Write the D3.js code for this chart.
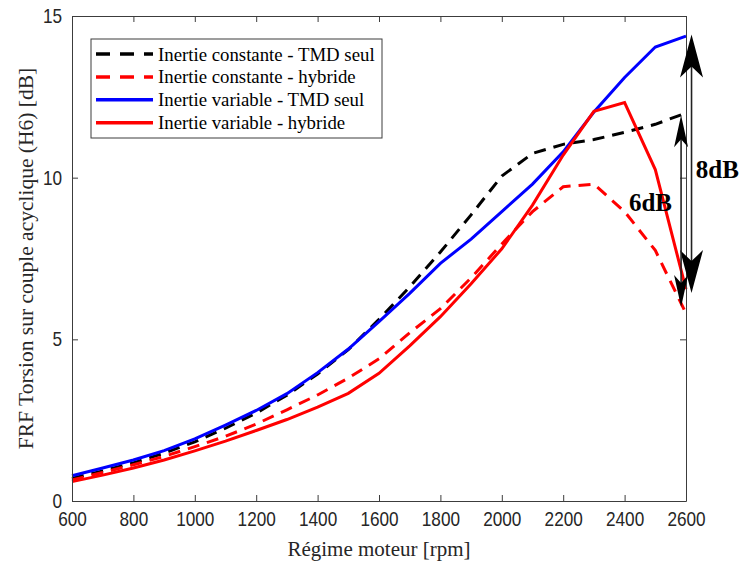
<!DOCTYPE html>
<html>
<head>
<meta charset="utf-8">
<script src="https://cdn.jsdelivr.net/npm/d3@7"></script>
<style>
  html, body { margin: 0; padding: 0; background: #fff; }
  svg { display: block; }
</style>
</head>
<body>
<script>
// ---------- data ----------
const rpm = [600,700,800,900,1000,1100,1200,1300,1400,1500,1600,1700,1800,1900,2000,2100,2200,2300,2400,2500,2600];
const constTMD = [0.70,0.93,1.18,1.48,1.83,2.25,2.72,3.27,3.93,4.68,5.62,6.62,7.70,8.85,10.05,10.75,11.03,11.18,11.40,11.65,12.00];
const constHyb = [0.65,0.88,1.12,1.38,1.68,2.00,2.38,2.82,3.28,3.80,4.40,5.20,5.95,6.90,7.95,8.95,9.72,9.80,8.95,7.75,5.80];
const varTMD   = [0.78,1.02,1.27,1.56,1.92,2.35,2.80,3.32,3.97,4.70,5.55,6.42,7.35,8.10,8.95,9.80,10.80,12.03,13.10,14.04,14.38];
const varHyb   = [0.60,0.80,1.02,1.27,1.55,1.85,2.18,2.52,2.90,3.33,3.95,4.80,5.70,6.72,7.80,9.15,10.70,12.05,12.32,10.25,6.55];
const seriesNames = ["Inertie constante - TMD seul","Inertie constante - hybride","Inertie variable - TMD seul","Inertie variable - hybride"];
const xTicks = [600,800,1000,1200,1400,1600,1800,2000,2200,2400,2600];
const yTicks = [0,5,10,15];
// annotations: label, rpm position, from dB, to dB, label rpm, label dB
const annLabels = ["8dB","6dB"];
const annRpm = [2618,2584];
const annFrom = [14.43,11.93];
const annTo = [6.43,6.00];
const annLabelRpm = [2632,2414];
const annLabelDb = [10.0,8.96];

// ---------- layout ----------
const W = 743, H = 563;
const L = 72, R = 686, T = 16, B = 501;
const svg = d3.select("body").append("svg").attr("width", W).attr("height", H);

const x = d3.scaleLinear().domain([600,2600]).range([L,R]);
const y = d3.scaleLinear().domain([0,15]).range([B,T]);

const axisColor = "#3c3c3c";
const tickFont = "'Liberation Sans',Arial,sans-serif";
const serif = "'Liberation Serif','Times New Roman',serif";
const sx = 0.86;

// series
const series = [
  {v: constTMD, color: "#000000", dash: "12,8"},
  {v: constHyb, color: "#ff0000", dash: "12,8"},
  {v: varTMD,   color: "#0000ff", dash: null},
  {v: varHyb,   color: "#ff0000", dash: null}
];
const line = d3.line().x((d,i) => x(rpm[i])).y(d => y(d));
series.forEach(s => {
  svg.append("path").datum(s.v).attr("d", line)
    .attr("fill","none").attr("stroke", s.color).attr("stroke-width", 3)
    .attr("stroke-dasharray", s.dash).attr("stroke-linejoin","miter");
});

// axes (box with inward ticks)
const tl = 6;
const gx = svg.append("g").attr("transform", `translate(0,${B})`)
  .call(d3.axisBottom(x).tickValues(xTicks).tickSizeInner(-tl).tickSizeOuter(0).tickPadding(12).tickFormat(d3.format("d")));
const gxt = svg.append("g").attr("transform", `translate(0,${T})`)
  .call(d3.axisTop(x).tickValues(xTicks).tickSizeInner(-tl).tickSizeOuter(0).tickFormat(""));
const gy = svg.append("g").attr("transform", `translate(${L},0)`)
  .call(d3.axisLeft(y).tickValues(yTicks).tickSizeInner(-tl).tickSizeOuter(0).tickPadding(10));
const gyr = svg.append("g").attr("transform", `translate(${R},0)`)
  .call(d3.axisRight(y).tickValues(yTicks).tickSizeInner(-tl).tickSizeOuter(0).tickFormat(""));
[gx,gxt,gy,gyr].forEach(g => {
  g.select(".domain").attr("stroke", axisColor).attr("stroke-width", 1);
  g.selectAll(".tick line").attr("stroke", axisColor);
  g.selectAll("text").attr("fill","#262626").style("font-family", tickFont).style("font-size","20px");
});
gx.selectAll("text").attr("dy","0.71em").attr("y", 11).attr("transform", `scale(${sx},1)`);
gy.selectAll("text").attr("x", -10 / sx).attr("transform", `scale(${sx},1)`);

// axis titles
svg.append("text").attr("x", (L+R)/2).attr("y", 556).attr("text-anchor","middle")
  .style("font-family", serif).style("font-size","21px").attr("fill","#262626")
  .text("Régime moteur [rpm]");
svg.append("text").attr("transform", `translate(33,${(T+B)/2}) rotate(-90)`).attr("text-anchor","middle")
  .style("font-family", serif).style("font-size","21.5px").attr("fill","#262626")
  .text("FRF Torsion sur couple acyclique (H6) [dB]");

// legend
const lg = svg.append("g");
lg.append("rect").attr("x", 91).attr("y", 39).attr("width", 291).attr("height", 99)
  .attr("fill","#fff").attr("stroke", axisColor).attr("stroke-width", 1);
seriesNames.forEach((name,i) => {
  const yy = 54 + i*22.9;
  lg.append("line").attr("x1", 96).attr("x2", 153).attr("y1", yy).attr("y2", yy)
    .attr("stroke", series[i].color).attr("stroke-width", 3.5).attr("stroke-dasharray", series[i].dash ? "14,10" : null);
  lg.append("text").attr("x", 158).attr("y", yy).attr("dy","0.35em")
    .style("font-family", serif).style("font-size","18.8px").attr("fill","#000").text(name);
});

// annotation arrows
function head(xc, tipY, dir, len, notch, hw) {
  const s = dir > 0 ? 1 : -1;
  return `M${xc},${tipY} L${xc+hw},${tipY + s*len} L${xc},${tipY + s*notch} L${xc-hw},${tipY + s*len} Z`;
}
const headLen = [43, 32], headNotch = [32, 24], headHW = [11.5, 7];
annLabels.forEach((lab,i) => {
  const xc = x(annRpm[i]);
  const y1 = y(annFrom[i]), y2 = y(annTo[i]);
  svg.append("line").attr("x1", xc).attr("x2", xc).attr("y1", y1 + 10).attr("y2", y2 - 10)
    .attr("stroke","#222").attr("stroke-width", 1.6);
  svg.append("path").attr("d", head(xc, y1, 1, headLen[i], headNotch[i], headHW[i])).attr("fill","#000");
  svg.append("path").attr("d", head(xc, y2, -1, headLen[i], headNotch[i], headHW[i])).attr("fill","#000");
  svg.append("text").attr("x", x(annLabelRpm[i])).attr("y", y(annLabelDb[i]))
    .style("font-family", serif).style("font-size","25px").style("font-weight","bold").attr("fill","#000")
    .text(lab);
});
</script>
</body>
</html>
